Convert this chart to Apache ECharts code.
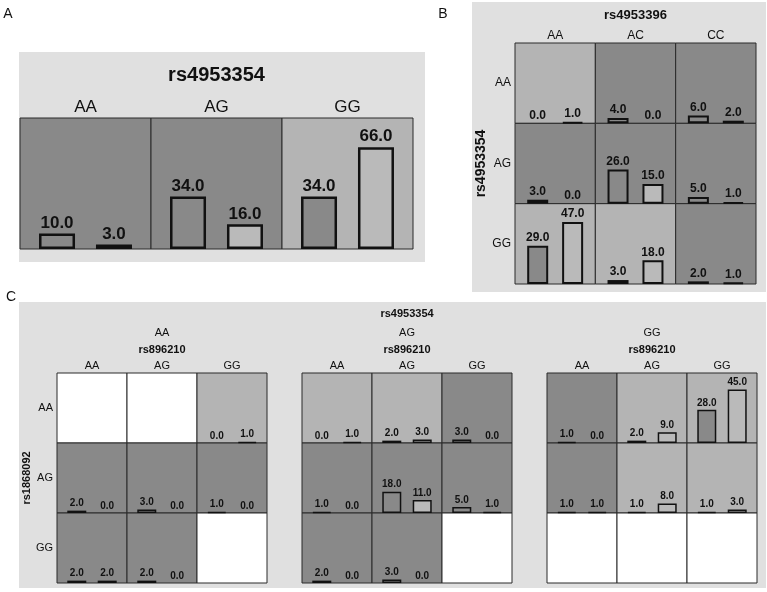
<!DOCTYPE html>
<html>
<head>
<meta charset="utf-8">
<script src="https://cdn.jsdelivr.net/npm/echarts@6/dist/echarts.min.js"></script>
<style>
  html, body { margin: 0; padding: 0; background: #fff; }
  #chart { width: 767px; height: 592px; }
</style>
</head>
<body>
<div id="chart"></div>
<script>
// genotype labels
var genotypes = ['AA', 'AG', 'GG'];
var genotypesB = ['AA', 'AC', 'CC'];

// A: rs4953354 alone (cases, controls, risk class per genotype)
var aCases = [10, 34, 34];
var aControls = [3, 16, 66];
var aRisk = ['H', 'H', 'L'];

// B: rows rs4953354, columns rs4953396
var bCases = [[0, 4, 6], [3, 26, 5], [29, 3, 2]];
var bControls = [[1, 0, 2], [0, 15, 1], [47, 18, 1]];
var bRisk = [['L', 'H', 'H'], ['H', 'H', 'H'], ['L', 'L', 'H']];

// C: one 3x3 block per rs4953354 genotype, rows rs1868092, columns rs896210 (null = no data)
var cCases = [
  [[null, null, 0], [2, 3, 1], [2, 2, null]],
  [[0, 2, 3], [1, 18, 5], [2, 3, null]],
  [[1, 2, 28], [1, 1, 1], [null, null, null]]
];
var cControls = [
  [[null, null, 1], [0, 0, 0], [2, 0, null]],
  [[1, 3, 0], [0, 11, 1], [0, 0, null]],
  [[0, 9, 45], [1, 8, 3], [null, null, null]]
];
var cRisk = [
  [['E', 'E', 'L'], ['H', 'H', 'H'], ['H', 'H', 'E']],
  [['L', 'L', 'H'], ['H', 'H', 'H'], ['H', 'H', 'E']],
  [['H', 'L', 'L'], ['H', 'L', 'L'], ['E', 'E', 'E']]
];

var FONT = '"Liberation Sans", Arial, sans-serif';
var riskColor = { H: '#898989', L: '#b4b4b4', E: '#ffffff' };
var caseColor = '#898989';
var controlColor = '#bababa';

var grids = [], xAxes = [], yAxes = [], series = [];

function addBlock(cfg) {
  // frame grid only carries the genotype labels and the axis names
  var gi = grids.length;
  grids.push({ left: cfg.left, top: cfg.top, width: cfg.width, height: cfg.height, show: false });
  xAxes.push({
    gridIndex: gi, type: 'category', position: 'top', data: cfg.cols,
    axisLine: { show: false }, axisTick: { show: false }, splitLine: { show: false },
    axisLabel: { fontFamily: FONT, fontSize: cfg.colSize, color: '#111', margin: cfg.colMargin },
    name: cfg.xName, nameLocation: 'middle', nameGap: cfg.xNameGap,
    nameTextStyle: cfg.xNameStyle
  });
  yAxes.push({
    gridIndex: gi, type: 'category', inverse: true, data: cfg.rows || ['', '', ''].slice(0, cfg.nRows),
    axisLine: { show: false }, axisTick: { show: false }, splitLine: { show: false },
    axisLabel: { show: !!cfg.rows, fontFamily: FONT, fontSize: cfg.rowSize, color: '#111',
      margin: 4, padding: [cfg.rowShift || 0, 0, 0, 0] },
    name: cfg.yName || '', nameLocation: 'middle', nameRotate: 90, nameGap: cfg.yNameGap || 0,
    nameTextStyle: { fontFamily: FONT, fontSize: cfg.yNameSize || 12, fontWeight: 'bold', color: '#111' }
  });

  var cw = cfg.width / cfg.nCols, ch = cfg.height / cfg.nRows;
  for (var r = 0; r < cfg.nRows; r++) {
    for (var c = 0; c < cfg.nCols; c++) {
      var k = grids.length;
      grids.push({
        left: cfg.left + c * cw, top: cfg.top + r * ch, width: cw, height: ch,
        show: true, backgroundColor: riskColor[cfg.risk[r][c]],
        borderColor: '#2a2a2a', borderWidth: 1
      });
      xAxes.push({ gridIndex: k, type: 'value', min: -0.65, max: 1.65, show: false });
      yAxes.push({ gridIndex: k, type: 'value', min: 0, max: cfg.yMax, show: false });
      var cs = cfg.cases[r][c], ct = cfg.controls[r][c];
      if (cs === null) continue;
      series.push({
        type: 'bar', xAxisIndex: k, yAxisIndex: k, barWidth: cfg.barWidth,
        data: [
          { value: [0, cs], itemStyle: { color: caseColor, borderWidth: cs ? cfg.border : 0 } },
          { value: [1, ct], itemStyle: { color: controlColor, borderWidth: ct ? cfg.border : 0 } }
        ],
        itemStyle: { borderColor: '#111' },
        label: {
          show: true, position: 'top', distance: 2,
          fontFamily: FONT, fontSize: cfg.valueSize, fontWeight: 'bold', color: '#111',
          formatter: function (p) { return p.value[1].toFixed(1); }
        },
        silent: true
      });
    }
  }
}

// panel A
addBlock({
  left: 20, top: 118, width: 393, height: 131, nRows: 1, nCols: 3,
  cols: genotypes, rows: null, colSize: 17, colMargin: 2,
  xName: 'rs4953354', xNameGap: 33,
  xNameStyle: { fontFamily: FONT, fontSize: 20, fontWeight: 'bold', color: '#111' },
  cases: [aCases], controls: [aControls], risk: [aRisk],
  yMax: 85, barWidth: 36, border: 2.5, valueSize: 17
});

// panel B
addBlock({
  left: 515, top: 43, width: 241, height: 241, nRows: 3, nCols: 3,
  cols: genotypesB, rows: genotypes, colSize: 12, colMargin: 1, rowSize: 12, rowShift: 8,
  xName: 'rs4953396', xNameGap: 21,
  xNameStyle: { fontFamily: FONT, fontSize: 13, fontWeight: 'bold', color: '#111' },
  yName: 'rs4953354', yNameGap: 25, yNameSize: 14,
  cases: bCases, controls: bControls, risk: bRisk,
  yMax: 61, barWidth: 21, border: 2, valueSize: 12
});

// panel C
var cLefts = [57, 302, 547];
for (var i = 0; i < 3; i++) {
  addBlock({
    left: cLefts[i], top: 373, width: 210, height: 210, nRows: 3, nCols: 3,
    cols: genotypes, rows: i === 0 ? genotypes : null, colSize: 11, colMargin: 1.5,
    rowSize: 11, rowShift: 6,
    xName: '{g|' + genotypes[i] + '}\n{b|rs896210}', xNameGap: 15,
    xNameStyle: {
      fontFamily: FONT, color: '#111', lineHeight: 17,
      rich: {
        g: { fontFamily: FONT, fontSize: 11, color: '#111', lineHeight: 17 },
        b: { fontFamily: FONT, fontSize: 11, fontWeight: 'bold', color: '#111', lineHeight: 17 }
      }
    },
    yName: i === 0 ? 'rs1868092' : '', yNameGap: 19, yNameSize: 11,
    cases: cCases[i], controls: cControls[i], risk: cRisk[i],
    yMax: 59, barWidth: 19, border: 1.5, valueSize: 10
  });
}

var chart = echarts.init(document.getElementById('chart'), null, { renderer: 'canvas' });
chart.setOption({
  animation: false,
  backgroundColor: '#ffffff',
  grid: grids,
  xAxis: xAxes,
  yAxis: yAxes,
  series: series,
  graphic: {
    elements: [
      { type: 'rect', z: -10, shape: { x: 19, y: 52, width: 406, height: 210 }, style: { fill: '#e0e0e0' } },
      { type: 'rect', z: -10, shape: { x: 472, y: 2, width: 294, height: 290 }, style: { fill: '#e0e0e0' } },
      { type: 'rect', z: -10, shape: { x: 19, y: 302, width: 747, height: 286 }, style: { fill: '#e0e0e0' } },
      { type: 'text', x: 8, y: 14, style: { text: 'A', fontFamily: FONT, fontSize: 14, fill: '#111', textAlign: 'center', textVerticalAlign: 'middle' } },
      { type: 'text', x: 443, y: 14, style: { text: 'B', fontFamily: FONT, fontSize: 14, fill: '#111', textAlign: 'center', textVerticalAlign: 'middle' } },
      { type: 'text', x: 11, y: 297, style: { text: 'C', fontFamily: FONT, fontSize: 14, fill: '#111', textAlign: 'center', textVerticalAlign: 'middle' } },
      { type: 'text', x: 407, y: 314, style: { text: 'rs4953354', fontFamily: FONT, fontSize: 11, fontWeight: 'bold', fill: '#111', textAlign: 'center', textVerticalAlign: 'middle' } }
    ]
  }
});
</script>
</body>
</html>
